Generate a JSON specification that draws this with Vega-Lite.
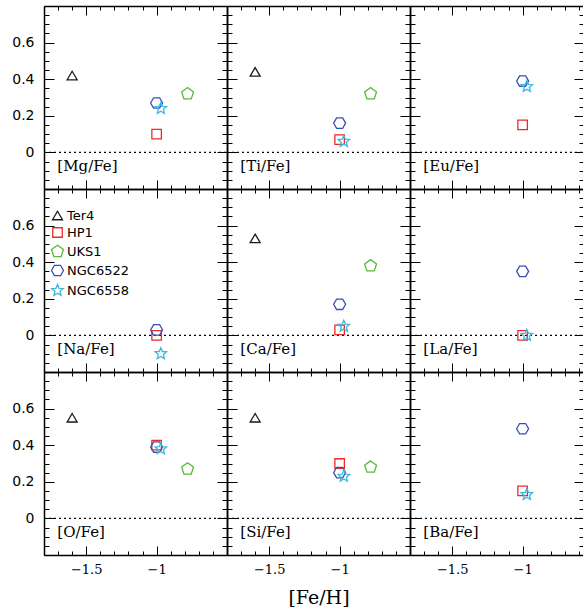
{
 "$schema": "https://vega.github.io/schema/vega-lite/v6.json",
 "padding": {"left": 11, "top": 5, "right": 0, "bottom": 5},
 "datasets": {
  "pts": [
   {"el":"Mg","cl":"Ter4","feh":-1.6,"v":0.42},{"el":"Mg","cl":"HP1","feh":-1.0,"v":0.10},{"el":"Mg","cl":"UKS1","feh":-0.78,"v":0.32},{"el":"Mg","cl":"NGC6522","feh":-1.0,"v":0.27},{"el":"Mg","cl":"NGC6558","feh":-0.97,"v":0.24},
   {"el":"Ti","cl":"Ter4","feh":-1.6,"v":0.44},{"el":"Ti","cl":"HP1","feh":-1.0,"v":0.07},{"el":"Ti","cl":"UKS1","feh":-0.78,"v":0.32},{"el":"Ti","cl":"NGC6522","feh":-1.0,"v":0.16},{"el":"Ti","cl":"NGC6558","feh":-0.97,"v":0.06},
   {"el":"Eu","cl":"HP1","feh":-1.0,"v":0.15},{"el":"Eu","cl":"NGC6522","feh":-1.0,"v":0.39},{"el":"Eu","cl":"NGC6558","feh":-0.97,"v":0.36},
   {"el":"Na","cl":"HP1","feh":-1.0,"v":0.0},{"el":"Na","cl":"NGC6522","feh":-1.0,"v":0.03},{"el":"Na","cl":"NGC6558","feh":-0.97,"v":-0.10},
   {"el":"Ca","cl":"Ter4","feh":-1.6,"v":0.53},{"el":"Ca","cl":"HP1","feh":-1.0,"v":0.03},{"el":"Ca","cl":"UKS1","feh":-0.78,"v":0.38},{"el":"Ca","cl":"NGC6522","feh":-1.0,"v":0.17},{"el":"Ca","cl":"NGC6558","feh":-0.97,"v":0.05},
   {"el":"La","cl":"HP1","feh":-1.0,"v":0.0},{"el":"La","cl":"NGC6522","feh":-1.0,"v":0.35},{"el":"La","cl":"NGC6558","feh":-0.97,"v":0.0},
   {"el":"O","cl":"Ter4","feh":-1.6,"v":0.55},{"el":"O","cl":"HP1","feh":-1.0,"v":0.40},{"el":"O","cl":"UKS1","feh":-0.78,"v":0.27},{"el":"O","cl":"NGC6522","feh":-1.0,"v":0.39},{"el":"O","cl":"NGC6558","feh":-0.97,"v":0.38},
   {"el":"Si","cl":"Ter4","feh":-1.6,"v":0.55},{"el":"Si","cl":"HP1","feh":-1.0,"v":0.30},{"el":"Si","cl":"UKS1","feh":-0.78,"v":0.28},{"el":"Si","cl":"NGC6522","feh":-1.0,"v":0.25},{"el":"Si","cl":"NGC6558","feh":-0.97,"v":0.23},
   {"el":"Ba","cl":"HP1","feh":-1.0,"v":0.15},{"el":"Ba","cl":"NGC6522","feh":-1.0,"v":0.49},{"el":"Ba","cl":"NGC6558","feh":-0.97,"v":0.13}
  ]
 },
 "columns": 3,
 "spacing": 0,
 "bounds": "flush",
 "concat": [
  {"width":183,"height":183,"layer":[
   {"data":{"values":[{}]},"mark":{"type":"rule","strokeDash":[2,3],"strokeWidth":1.2,"color":"black"},"encoding":{
     "y":{"datum":0,"type":"quantitative","scale":{"domain":[-0.2,0.8],"nice":false,"zero":false},"axis":{"orient":"right","labels":false,"title":null,"domain":true,"tickCount":20,"tickSize":-5,"tickColor":"black"}},
     "x":{"datum":-1.8,"type":"quantitative","scale":{"domain":[-1.8,-0.5],"nice":false,"zero":false},"axis":{"orient":"bottom","labels":false,"title":null,"domain":true,"tickCount":13,"tickSize":-4,"tickColor":"black"}},
     "x2":{"datum":-0.5}}},
   {"data":{"name":"pts"},"transform":[{"filter":"datum.el=='Mg'"}],"mark":{"type":"point","filled":false,"strokeWidth":1.3,"size":100,"opacity":1},"encoding":{
     "x":{"field":"feh","type":"quantitative","scale":{"domain":[-1.8,-0.5],"nice":false,"zero":false},"axis":{"orient":"bottom","labels":false,"title":null,"values":[-1.5,-1],"tickSize":-9,"tickColor":"black"}},
     "y":{"field":"v","type":"quantitative","scale":{"domain":[-0.2,0.8],"nice":false,"zero":false},"axis":{"orient":"left","title":null,"values":[0,0.2,0.4,0.6],"format":".1~f","tickSize":-10,"labelPadding":20,"tickColor":"black"}},
     "color":{"field":"cl","type":"nominal","scale":{"domain":["Ter4","HP1","UKS1","NGC6522","NGC6558"],"range":["#1a1a1a","#ee2a2a","#5cb83a","#3a4fb0","#3ab8dc"]}},
     "shape":{"field":"cl","type":"nominal","scale":{"domain":["Ter4","HP1","UKS1","NGC6522","NGC6558"],"range":["M0,-0.85L1,0.85L-1,0.85Z","M-0.95,-0.95L0.95,-0.95L0.95,0.95L-0.95,0.95Z","M0,-1.25L1.19,-0.39L0.73,1.01L-0.73,1.01L-1.19,-0.39Z","M1.2,0L0.6,1.04L-0.6,1.04L-1.2,0L-0.6,-1.04L0.6,-1.04Z","M0,-1.2L0.317,-0.437L1.141,-0.371L0.514,0.167L0.705,0.971L0,0.54L-0.705,0.971L-0.514,0.167L-1.141,-0.371L-0.317,-0.437Z"]}}}},
   {"data":{"values":[{"t":"[Mg/Fe]"}]},"mark":{"type":"text","align":"left","baseline":"middle","font":"DejaVu Serif","fontSize":15},"encoding":{
     "x":{"datum":-1.705,"type":"quantitative","scale":{"domain":[-1.8,-0.5],"nice":false,"zero":false},"axis":{"orient":"top","labels":false,"title":null,"domain":true,"tickCount":13,"tickSize":-4,"tickColor":"black"}},
     "y":{"datum":-0.075,"type":"quantitative","scale":{"domain":[-0.2,0.8],"nice":false,"zero":false},"axis":{"orient":"left","labels":false,"title":null,"domain":true,"tickCount":20,"tickSize":-5,"tickColor":"black"}},
     "text":{"field":"t"}}},
   {"data":{"values":[{}]},"mark":{"type":"point","opacity":0},"encoding":{
     "x":{"datum":-1.8,"type":"quantitative","scale":{"domain":[-1.8,-0.5],"nice":false,"zero":false},"axis":{"orient":"top","labels":false,"title":null,"values":[-1.5,-1],"tickSize":-9,"tickColor":"black"}},
     "y":{"datum":-0.2,"type":"quantitative","scale":{"domain":[-0.2,0.8],"nice":false,"zero":false},"axis":{"orient":"right","labels":false,"title":null,"values":[0,0.2,0.4,0.6],"tickSize":-10,"tickColor":"black"}}}}
  ],"resolve":{"axis":{"x":"independent","y":"independent"}}},

  {"width":183,"height":183,"layer":[
   {"data":{"values":[{}]},"mark":{"type":"rule","strokeDash":[2,3],"strokeWidth":1.2,"color":"black"},"encoding":{
     "y":{"datum":0,"type":"quantitative","scale":{"domain":[-0.2,0.8],"nice":false,"zero":false},"axis":{"orient":"right","labels":false,"title":null,"domain":true,"tickCount":20,"tickSize":-5,"tickColor":"black"}},
     "x":{"datum":-1.8,"type":"quantitative","scale":{"domain":[-1.8,-0.5],"nice":false,"zero":false},"axis":{"orient":"bottom","labels":false,"title":null,"domain":true,"tickCount":13,"tickSize":-4,"tickColor":"black"}},
     "x2":{"datum":-0.5}}},
   {"data":{"name":"pts"},"transform":[{"filter":"datum.el=='Ti'"}],"mark":{"type":"point","filled":false,"strokeWidth":1.3,"size":100,"opacity":1},"encoding":{
     "x":{"field":"feh","type":"quantitative","scale":{"domain":[-1.8,-0.5],"nice":false,"zero":false},"axis":{"orient":"bottom","labels":false,"title":null,"values":[-1.5,-1],"tickSize":-9,"tickColor":"black"}},
     "y":{"field":"v","type":"quantitative","scale":{"domain":[-0.2,0.8],"nice":false,"zero":false},"axis":{"orient":"left","labels":false,"title":null,"values":[0,0.2,0.4,0.6],"tickSize":-10,"tickColor":"black"}},
     "color":{"field":"cl","type":"nominal","scale":{"domain":["Ter4","HP1","UKS1","NGC6522","NGC6558"],"range":["#1a1a1a","#ee2a2a","#5cb83a","#3a4fb0","#3ab8dc"]}},
     "shape":{"field":"cl","type":"nominal","scale":{"domain":["Ter4","HP1","UKS1","NGC6522","NGC6558"],"range":["M0,-0.85L1,0.85L-1,0.85Z","M-0.95,-0.95L0.95,-0.95L0.95,0.95L-0.95,0.95Z","M0,-1.25L1.19,-0.39L0.73,1.01L-0.73,1.01L-1.19,-0.39Z","M1.2,0L0.6,1.04L-0.6,1.04L-1.2,0L-0.6,-1.04L0.6,-1.04Z","M0,-1.2L0.317,-0.437L1.141,-0.371L0.514,0.167L0.705,0.971L0,0.54L-0.705,0.971L-0.514,0.167L-1.141,-0.371L-0.317,-0.437Z"]}}}},
   {"data":{"values":[{"t":"[Ti/Fe]"}]},"mark":{"type":"text","align":"left","baseline":"middle","font":"DejaVu Serif","fontSize":15},"encoding":{
     "x":{"datum":-1.705,"type":"quantitative","scale":{"domain":[-1.8,-0.5],"nice":false,"zero":false},"axis":{"orient":"top","labels":false,"title":null,"domain":true,"tickCount":13,"tickSize":-4,"tickColor":"black"}},
     "y":{"datum":-0.075,"type":"quantitative","scale":{"domain":[-0.2,0.8],"nice":false,"zero":false},"axis":{"orient":"left","labels":false,"title":null,"domain":true,"tickCount":20,"tickSize":-5,"tickColor":"black"}},
     "text":{"field":"t"}}},
   {"data":{"values":[{}]},"mark":{"type":"point","opacity":0},"encoding":{
     "x":{"datum":-1.8,"type":"quantitative","scale":{"domain":[-1.8,-0.5],"nice":false,"zero":false},"axis":{"orient":"top","labels":false,"title":null,"values":[-1.5,-1],"tickSize":-9,"tickColor":"black"}},
     "y":{"datum":-0.2,"type":"quantitative","scale":{"domain":[-0.2,0.8],"nice":false,"zero":false},"axis":{"orient":"right","labels":false,"title":null,"values":[0,0.2,0.4,0.6],"tickSize":-10,"tickColor":"black"}}}}
  ],"resolve":{"axis":{"x":"independent","y":"independent"}}},

  {"width":174,"height":183,"layer":[
   {"data":{"values":[{}]},"mark":{"type":"rule","strokeDash":[2,3],"strokeWidth":1.2,"color":"black"},"encoding":{
     "y":{"datum":0,"type":"quantitative","scale":{"domain":[-0.2,0.8],"nice":false,"zero":false},"axis":{"orient":"right","labels":false,"title":null,"domain":false,"tickCount":20,"tickSize":-5,"tickColor":"black"}},
     "x":{"datum":-1.8,"type":"quantitative","scale":{"domain":[-1.8,-0.564],"nice":false,"zero":false},"axis":{"orient":"bottom","labels":false,"title":null,"domain":true,"tickCount":13,"tickSize":-4,"tickColor":"black"}},
     "x2":{"datum":-0.564}}},
   {"data":{"name":"pts"},"transform":[{"filter":"datum.el=='Eu'"}],"mark":{"type":"point","filled":false,"strokeWidth":1.3,"size":100,"opacity":1},"encoding":{
     "x":{"field":"feh","type":"quantitative","scale":{"domain":[-1.8,-0.564],"nice":false,"zero":false},"axis":{"orient":"bottom","labels":false,"title":null,"values":[-1.5,-1],"tickSize":-9,"tickColor":"black"}},
     "y":{"field":"v","type":"quantitative","scale":{"domain":[-0.2,0.8],"nice":false,"zero":false},"axis":{"orient":"left","labels":false,"title":null,"values":[0,0.2,0.4,0.6],"tickSize":-10,"tickColor":"black"}},
     "color":{"field":"cl","type":"nominal","scale":{"domain":["Ter4","HP1","UKS1","NGC6522","NGC6558"],"range":["#1a1a1a","#ee2a2a","#5cb83a","#3a4fb0","#3ab8dc"]}},
     "shape":{"field":"cl","type":"nominal","scale":{"domain":["Ter4","HP1","UKS1","NGC6522","NGC6558"],"range":["M0,-0.85L1,0.85L-1,0.85Z","M-0.95,-0.95L0.95,-0.95L0.95,0.95L-0.95,0.95Z","M0,-1.25L1.19,-0.39L0.73,1.01L-0.73,1.01L-1.19,-0.39Z","M1.2,0L0.6,1.04L-0.6,1.04L-1.2,0L-0.6,-1.04L0.6,-1.04Z","M0,-1.2L0.317,-0.437L1.141,-0.371L0.514,0.167L0.705,0.971L0,0.54L-0.705,0.971L-0.514,0.167L-1.141,-0.371L-0.317,-0.437Z"]}}}},
   {"data":{"values":[{"t":"[Eu/Fe]"}]},"mark":{"type":"text","align":"left","baseline":"middle","font":"DejaVu Serif","fontSize":15},"encoding":{
     "x":{"datum":-1.705,"type":"quantitative","scale":{"domain":[-1.8,-0.564],"nice":false,"zero":false},"axis":{"orient":"top","labels":false,"title":null,"domain":true,"tickCount":13,"tickSize":-4,"tickColor":"black"}},
     "y":{"datum":-0.075,"type":"quantitative","scale":{"domain":[-0.2,0.8],"nice":false,"zero":false},"axis":{"orient":"left","labels":false,"title":null,"domain":true,"tickCount":20,"tickSize":-5,"tickColor":"black"}},
     "text":{"field":"t"}}},
   {"data":{"values":[{}]},"mark":{"type":"point","opacity":0},"encoding":{
     "x":{"datum":-1.8,"type":"quantitative","scale":{"domain":[-1.8,-0.564],"nice":false,"zero":false},"axis":{"orient":"top","labels":false,"title":null,"values":[-1.5,-1],"tickSize":-9,"tickColor":"black"}},
     "y":{"datum":-0.2,"type":"quantitative","scale":{"domain":[-0.2,0.8],"nice":false,"zero":false},"axis":{"orient":"right","labels":false,"title":null,"values":[0,0.2,0.4,0.6],"tickSize":-10,"tickColor":"black"}}}}
  ],"resolve":{"axis":{"x":"independent","y":"independent"}}},

  {"width":183,"height":183,"layer":[
   {"data":{"values":[{}]},"mark":{"type":"rule","strokeDash":[2,3],"strokeWidth":1.2,"color":"black"},"encoding":{
     "y":{"datum":0,"type":"quantitative","scale":{"domain":[-0.2,0.8],"nice":false,"zero":false},"axis":{"orient":"right","labels":false,"title":null,"domain":true,"tickCount":20,"tickSize":-5,"tickColor":"black"}},
     "x":{"datum":-1.8,"type":"quantitative","scale":{"domain":[-1.8,-0.5],"nice":false,"zero":false},"axis":{"orient":"bottom","labels":false,"title":null,"domain":true,"tickCount":13,"tickSize":-4,"tickColor":"black"}},
     "x2":{"datum":-0.5}}},
   {"data":{"name":"pts"},"transform":[{"filter":"datum.el=='Na'"}],"mark":{"type":"point","filled":false,"strokeWidth":1.3,"size":100,"opacity":1},"encoding":{
     "x":{"field":"feh","type":"quantitative","scale":{"domain":[-1.8,-0.5],"nice":false,"zero":false},"axis":{"orient":"bottom","labels":false,"title":null,"values":[-1.5,-1],"tickSize":-9,"tickColor":"black"}},
     "y":{"field":"v","type":"quantitative","scale":{"domain":[-0.2,0.8],"nice":false,"zero":false},"axis":{"orient":"left","title":null,"values":[0,0.2,0.4,0.6],"format":".1~f","tickSize":-10,"labelPadding":20,"tickColor":"black"}},
     "color":{"field":"cl","type":"nominal","scale":{"domain":["Ter4","HP1","UKS1","NGC6522","NGC6558"],"range":["#1a1a1a","#ee2a2a","#5cb83a","#3a4fb0","#3ab8dc"]}},
     "shape":{"field":"cl","type":"nominal","scale":{"domain":["Ter4","HP1","UKS1","NGC6522","NGC6558"],"range":["M0,-0.85L1,0.85L-1,0.85Z","M-0.95,-0.95L0.95,-0.95L0.95,0.95L-0.95,0.95Z","M0,-1.25L1.19,-0.39L0.73,1.01L-0.73,1.01L-1.19,-0.39Z","M1.2,0L0.6,1.04L-0.6,1.04L-1.2,0L-0.6,-1.04L0.6,-1.04Z","M0,-1.2L0.317,-0.437L1.141,-0.371L0.514,0.167L0.705,0.971L0,0.54L-0.705,0.971L-0.514,0.167L-1.141,-0.371L-0.317,-0.437Z"]}}}},
   {"data":{"values":[{"t":"[Na/Fe]"}]},"mark":{"type":"text","align":"left","baseline":"middle","font":"DejaVu Serif","fontSize":15},"encoding":{
     "x":{"datum":-1.705,"type":"quantitative","scale":{"domain":[-1.8,-0.5],"nice":false,"zero":false},"axis":{"orient":"top","labels":false,"title":null,"domain":true,"tickCount":13,"tickSize":-4,"tickColor":"black"}},
     "y":{"datum":-0.075,"type":"quantitative","scale":{"domain":[-0.2,0.8],"nice":false,"zero":false},"axis":{"orient":"left","labels":false,"title":null,"domain":true,"tickCount":20,"tickSize":-5,"tickColor":"black"}},
     "text":{"field":"t"}}},
   {"data":{"values":[{}]},"mark":{"type":"point","opacity":0},"encoding":{
     "x":{"datum":-1.8,"type":"quantitative","scale":{"domain":[-1.8,-0.5],"nice":false,"zero":false},"axis":{"orient":"top","labels":false,"title":null,"values":[-1.5,-1],"tickSize":-9,"tickColor":"black"}},
     "y":{"datum":-0.2,"type":"quantitative","scale":{"domain":[-0.2,0.8],"nice":false,"zero":false},"axis":{"orient":"right","labels":false,"title":null,"values":[0,0.2,0.4,0.6],"tickSize":-10,"tickColor":"black"}}}}
  ],"resolve":{"axis":{"x":"independent","y":"independent"}}},

  {"width":183,"height":183,"layer":[
   {"data":{"values":[{}]},"mark":{"type":"rule","strokeDash":[2,3],"strokeWidth":1.2,"color":"black"},"encoding":{
     "y":{"datum":0,"type":"quantitative","scale":{"domain":[-0.2,0.8],"nice":false,"zero":false},"axis":{"orient":"right","labels":false,"title":null,"domain":true,"tickCount":20,"tickSize":-5,"tickColor":"black"}},
     "x":{"datum":-1.8,"type":"quantitative","scale":{"domain":[-1.8,-0.5],"nice":false,"zero":false},"axis":{"orient":"bottom","labels":false,"title":null,"domain":true,"tickCount":13,"tickSize":-4,"tickColor":"black"}},
     "x2":{"datum":-0.5}}},
   {"data":{"name":"pts"},"transform":[{"filter":"datum.el=='Ca'"}],"mark":{"type":"point","filled":false,"strokeWidth":1.3,"size":100,"opacity":1},"encoding":{
     "x":{"field":"feh","type":"quantitative","scale":{"domain":[-1.8,-0.5],"nice":false,"zero":false},"axis":{"orient":"bottom","labels":false,"title":null,"values":[-1.5,-1],"tickSize":-9,"tickColor":"black"}},
     "y":{"field":"v","type":"quantitative","scale":{"domain":[-0.2,0.8],"nice":false,"zero":false},"axis":{"orient":"left","labels":false,"title":null,"values":[0,0.2,0.4,0.6],"tickSize":-10,"tickColor":"black"}},
     "color":{"field":"cl","type":"nominal","scale":{"domain":["Ter4","HP1","UKS1","NGC6522","NGC6558"],"range":["#1a1a1a","#ee2a2a","#5cb83a","#3a4fb0","#3ab8dc"]}},
     "shape":{"field":"cl","type":"nominal","scale":{"domain":["Ter4","HP1","UKS1","NGC6522","NGC6558"],"range":["M0,-0.85L1,0.85L-1,0.85Z","M-0.95,-0.95L0.95,-0.95L0.95,0.95L-0.95,0.95Z","M0,-1.25L1.19,-0.39L0.73,1.01L-0.73,1.01L-1.19,-0.39Z","M1.2,0L0.6,1.04L-0.6,1.04L-1.2,0L-0.6,-1.04L0.6,-1.04Z","M0,-1.2L0.317,-0.437L1.141,-0.371L0.514,0.167L0.705,0.971L0,0.54L-0.705,0.971L-0.514,0.167L-1.141,-0.371L-0.317,-0.437Z"]}}}},
   {"data":{"values":[{"t":"[Ca/Fe]"}]},"mark":{"type":"text","align":"left","baseline":"middle","font":"DejaVu Serif","fontSize":15},"encoding":{
     "x":{"datum":-1.705,"type":"quantitative","scale":{"domain":[-1.8,-0.5],"nice":false,"zero":false},"axis":{"orient":"top","labels":false,"title":null,"domain":true,"tickCount":13,"tickSize":-4,"tickColor":"black"}},
     "y":{"datum":-0.075,"type":"quantitative","scale":{"domain":[-0.2,0.8],"nice":false,"zero":false},"axis":{"orient":"left","labels":false,"title":null,"domain":true,"tickCount":20,"tickSize":-5,"tickColor":"black"}},
     "text":{"field":"t"}}},
   {"data":{"values":[{}]},"mark":{"type":"point","opacity":0},"encoding":{
     "x":{"datum":-1.8,"type":"quantitative","scale":{"domain":[-1.8,-0.5],"nice":false,"zero":false},"axis":{"orient":"top","labels":false,"title":null,"values":[-1.5,-1],"tickSize":-9,"tickColor":"black"}},
     "y":{"datum":-0.2,"type":"quantitative","scale":{"domain":[-0.2,0.8],"nice":false,"zero":false},"axis":{"orient":"right","labels":false,"title":null,"values":[0,0.2,0.4,0.6],"tickSize":-10,"tickColor":"black"}}}}
  ],"resolve":{"axis":{"x":"independent","y":"independent"}}},

  {"width":174,"height":183,"layer":[
   {"data":{"values":[{}]},"mark":{"type":"rule","strokeDash":[2,3],"strokeWidth":1.2,"color":"black"},"encoding":{
     "y":{"datum":0,"type":"quantitative","scale":{"domain":[-0.2,0.8],"nice":false,"zero":false},"axis":{"orient":"right","labels":false,"title":null,"domain":false,"tickCount":20,"tickSize":-5,"tickColor":"black"}},
     "x":{"datum":-1.8,"type":"quantitative","scale":{"domain":[-1.8,-0.564],"nice":false,"zero":false},"axis":{"orient":"bottom","labels":false,"title":null,"domain":true,"tickCount":13,"tickSize":-4,"tickColor":"black"}},
     "x2":{"datum":-0.564}}},
   {"data":{"name":"pts"},"transform":[{"filter":"datum.el=='La'"}],"mark":{"type":"point","filled":false,"strokeWidth":1.3,"size":100,"opacity":1},"encoding":{
     "x":{"field":"feh","type":"quantitative","scale":{"domain":[-1.8,-0.564],"nice":false,"zero":false},"axis":{"orient":"bottom","labels":false,"title":null,"values":[-1.5,-1],"tickSize":-9,"tickColor":"black"}},
     "y":{"field":"v","type":"quantitative","scale":{"domain":[-0.2,0.8],"nice":false,"zero":false},"axis":{"orient":"left","labels":false,"title":null,"values":[0,0.2,0.4,0.6],"tickSize":-10,"tickColor":"black"}},
     "color":{"field":"cl","type":"nominal","scale":{"domain":["Ter4","HP1","UKS1","NGC6522","NGC6558"],"range":["#1a1a1a","#ee2a2a","#5cb83a","#3a4fb0","#3ab8dc"]}},
     "shape":{"field":"cl","type":"nominal","scale":{"domain":["Ter4","HP1","UKS1","NGC6522","NGC6558"],"range":["M0,-0.85L1,0.85L-1,0.85Z","M-0.95,-0.95L0.95,-0.95L0.95,0.95L-0.95,0.95Z","M0,-1.25L1.19,-0.39L0.73,1.01L-0.73,1.01L-1.19,-0.39Z","M1.2,0L0.6,1.04L-0.6,1.04L-1.2,0L-0.6,-1.04L0.6,-1.04Z","M0,-1.2L0.317,-0.437L1.141,-0.371L0.514,0.167L0.705,0.971L0,0.54L-0.705,0.971L-0.514,0.167L-1.141,-0.371L-0.317,-0.437Z"]}}}},
   {"data":{"values":[{"t":"[La/Fe]"}]},"mark":{"type":"text","align":"left","baseline":"middle","font":"DejaVu Serif","fontSize":15},"encoding":{
     "x":{"datum":-1.705,"type":"quantitative","scale":{"domain":[-1.8,-0.564],"nice":false,"zero":false},"axis":{"orient":"top","labels":false,"title":null,"domain":true,"tickCount":13,"tickSize":-4,"tickColor":"black"}},
     "y":{"datum":-0.075,"type":"quantitative","scale":{"domain":[-0.2,0.8],"nice":false,"zero":false},"axis":{"orient":"left","labels":false,"title":null,"domain":true,"tickCount":20,"tickSize":-5,"tickColor":"black"}},
     "text":{"field":"t"}}},
   {"data":{"values":[{}]},"mark":{"type":"point","opacity":0},"encoding":{
     "x":{"datum":-1.8,"type":"quantitative","scale":{"domain":[-1.8,-0.564],"nice":false,"zero":false},"axis":{"orient":"top","labels":false,"title":null,"values":[-1.5,-1],"tickSize":-9,"tickColor":"black"}},
     "y":{"datum":-0.2,"type":"quantitative","scale":{"domain":[-0.2,0.8],"nice":false,"zero":false},"axis":{"orient":"right","labels":false,"title":null,"values":[0,0.2,0.4,0.6],"tickSize":-10,"tickColor":"black"}}}}
  ],"resolve":{"axis":{"x":"independent","y":"independent"}}},

  {"width":183,"height":183,"layer":[
   {"data":{"values":[{}]},"mark":{"type":"rule","strokeDash":[2,3],"strokeWidth":1.2,"color":"black"},"encoding":{
     "y":{"datum":0,"type":"quantitative","scale":{"domain":[-0.2,0.8],"nice":false,"zero":false},"axis":{"orient":"right","labels":false,"title":null,"domain":true,"tickCount":20,"tickSize":-5,"tickColor":"black"}},
     "x":{"datum":-1.8,"type":"quantitative","scale":{"domain":[-1.8,-0.5],"nice":false,"zero":false},"axis":{"orient":"bottom","labels":false,"title":null,"domain":true,"tickCount":13,"tickSize":-4,"tickColor":"black"}},
     "x2":{"datum":-0.5}}},
   {"data":{"name":"pts"},"transform":[{"filter":"datum.el=='O'"}],"mark":{"type":"point","filled":false,"strokeWidth":1.3,"size":100,"opacity":1},"encoding":{
     "x":{"field":"feh","type":"quantitative","scale":{"domain":[-1.8,-0.5],"nice":false,"zero":false},"axis":{"orient":"bottom","title":null,"values":[-1.5,-1],"format":".1~f","tickSize":-9,"labelPadding":17,"tickColor":"black"}},
     "y":{"field":"v","type":"quantitative","scale":{"domain":[-0.2,0.8],"nice":false,"zero":false},"axis":{"orient":"left","title":null,"values":[0,0.2,0.4,0.6],"format":".1~f","tickSize":-10,"labelPadding":20,"tickColor":"black"}},
     "color":{"field":"cl","type":"nominal","scale":{"domain":["Ter4","HP1","UKS1","NGC6522","NGC6558"],"range":["#1a1a1a","#ee2a2a","#5cb83a","#3a4fb0","#3ab8dc"]}},
     "shape":{"field":"cl","type":"nominal","scale":{"domain":["Ter4","HP1","UKS1","NGC6522","NGC6558"],"range":["M0,-0.85L1,0.85L-1,0.85Z","M-0.95,-0.95L0.95,-0.95L0.95,0.95L-0.95,0.95Z","M0,-1.25L1.19,-0.39L0.73,1.01L-0.73,1.01L-1.19,-0.39Z","M1.2,0L0.6,1.04L-0.6,1.04L-1.2,0L-0.6,-1.04L0.6,-1.04Z","M0,-1.2L0.317,-0.437L1.141,-0.371L0.514,0.167L0.705,0.971L0,0.54L-0.705,0.971L-0.514,0.167L-1.141,-0.371L-0.317,-0.437Z"]}}}},
   {"data":{"values":[{"t":"[O/Fe]"}]},"mark":{"type":"text","align":"left","baseline":"middle","font":"DejaVu Serif","fontSize":15},"encoding":{
     "x":{"datum":-1.705,"type":"quantitative","scale":{"domain":[-1.8,-0.5],"nice":false,"zero":false},"axis":{"orient":"top","labels":false,"title":null,"domain":true,"tickCount":13,"tickSize":-4,"tickColor":"black"}},
     "y":{"datum":-0.075,"type":"quantitative","scale":{"domain":[-0.2,0.8],"nice":false,"zero":false},"axis":{"orient":"left","labels":false,"title":null,"domain":true,"tickCount":20,"tickSize":-5,"tickColor":"black"}},
     "text":{"field":"t"}}},
   {"data":{"values":[{}]},"mark":{"type":"point","opacity":0},"encoding":{
     "x":{"datum":-1.8,"type":"quantitative","scale":{"domain":[-1.8,-0.5],"nice":false,"zero":false},"axis":{"orient":"top","labels":false,"title":null,"values":[-1.5,-1],"tickSize":-9,"tickColor":"black"}},
     "y":{"datum":-0.2,"type":"quantitative","scale":{"domain":[-0.2,0.8],"nice":false,"zero":false},"axis":{"orient":"right","labels":false,"title":null,"values":[0,0.2,0.4,0.6],"tickSize":-10,"tickColor":"black"}}}}
  ],"resolve":{"axis":{"x":"independent","y":"independent"}}},

  {"width":183,"height":183,"layer":[
   {"data":{"values":[{}]},"mark":{"type":"rule","strokeDash":[2,3],"strokeWidth":1.2,"color":"black"},"encoding":{
     "y":{"datum":0,"type":"quantitative","scale":{"domain":[-0.2,0.8],"nice":false,"zero":false},"axis":{"orient":"right","labels":false,"title":null,"domain":true,"tickCount":20,"tickSize":-5,"tickColor":"black"}},
     "x":{"datum":-1.8,"type":"quantitative","scale":{"domain":[-1.8,-0.5],"nice":false,"zero":false},"axis":{"orient":"bottom","labels":false,"title":null,"domain":true,"tickCount":13,"tickSize":-4,"tickColor":"black"}},
     "x2":{"datum":-0.5}}},
   {"data":{"name":"pts"},"transform":[{"filter":"datum.el=='Si'"}],"mark":{"type":"point","filled":false,"strokeWidth":1.3,"size":100,"opacity":1},"encoding":{
     "x":{"field":"feh","type":"quantitative","scale":{"domain":[-1.8,-0.5],"nice":false,"zero":false},"axis":{"orient":"bottom","title":"[Fe/H]","values":[-1.5,-1],"format":".1~f","tickSize":-9,"labelPadding":17,"tickColor":"black"}},
     "y":{"field":"v","type":"quantitative","scale":{"domain":[-0.2,0.8],"nice":false,"zero":false},"axis":{"orient":"left","labels":false,"title":null,"values":[0,0.2,0.4,0.6],"tickSize":-10,"tickColor":"black"}},
     "color":{"field":"cl","type":"nominal","scale":{"domain":["Ter4","HP1","UKS1","NGC6522","NGC6558"],"range":["#1a1a1a","#ee2a2a","#5cb83a","#3a4fb0","#3ab8dc"]}},
     "shape":{"field":"cl","type":"nominal","scale":{"domain":["Ter4","HP1","UKS1","NGC6522","NGC6558"],"range":["M0,-0.85L1,0.85L-1,0.85Z","M-0.95,-0.95L0.95,-0.95L0.95,0.95L-0.95,0.95Z","M0,-1.25L1.19,-0.39L0.73,1.01L-0.73,1.01L-1.19,-0.39Z","M1.2,0L0.6,1.04L-0.6,1.04L-1.2,0L-0.6,-1.04L0.6,-1.04Z","M0,-1.2L0.317,-0.437L1.141,-0.371L0.514,0.167L0.705,0.971L0,0.54L-0.705,0.971L-0.514,0.167L-1.141,-0.371L-0.317,-0.437Z"]}}}},
   {"data":{"values":[{"t":"[Si/Fe]"}]},"mark":{"type":"text","align":"left","baseline":"middle","font":"DejaVu Serif","fontSize":15},"encoding":{
     "x":{"datum":-1.705,"type":"quantitative","scale":{"domain":[-1.8,-0.5],"nice":false,"zero":false},"axis":{"orient":"top","labels":false,"title":null,"domain":true,"tickCount":13,"tickSize":-4,"tickColor":"black"}},
     "y":{"datum":-0.075,"type":"quantitative","scale":{"domain":[-0.2,0.8],"nice":false,"zero":false},"axis":{"orient":"left","labels":false,"title":null,"domain":true,"tickCount":20,"tickSize":-5,"tickColor":"black"}},
     "text":{"field":"t"}}},
   {"data":{"values":[{}]},"mark":{"type":"point","opacity":0},"encoding":{
     "x":{"datum":-1.8,"type":"quantitative","scale":{"domain":[-1.8,-0.5],"nice":false,"zero":false},"axis":{"orient":"top","labels":false,"title":null,"values":[-1.5,-1],"tickSize":-9,"tickColor":"black"}},
     "y":{"datum":-0.2,"type":"quantitative","scale":{"domain":[-0.2,0.8],"nice":false,"zero":false},"axis":{"orient":"right","labels":false,"title":null,"values":[0,0.2,0.4,0.6],"tickSize":-10,"tickColor":"black"}}}}
  ],"resolve":{"axis":{"x":"independent","y":"independent"}}},

  {"width":174,"height":183,"layer":[
   {"data":{"values":[{}]},"mark":{"type":"rule","strokeDash":[2,3],"strokeWidth":1.2,"color":"black"},"encoding":{
     "y":{"datum":0,"type":"quantitative","scale":{"domain":[-0.2,0.8],"nice":false,"zero":false},"axis":{"orient":"right","labels":false,"title":null,"domain":false,"tickCount":20,"tickSize":-5,"tickColor":"black"}},
     "x":{"datum":-1.8,"type":"quantitative","scale":{"domain":[-1.8,-0.564],"nice":false,"zero":false},"axis":{"orient":"bottom","labels":false,"title":null,"domain":true,"tickCount":13,"tickSize":-4,"tickColor":"black"}},
     "x2":{"datum":-0.564}}},
   {"data":{"name":"pts"},"transform":[{"filter":"datum.el=='Ba'"}],"mark":{"type":"point","filled":false,"strokeWidth":1.3,"size":100,"opacity":1},"encoding":{
     "x":{"field":"feh","type":"quantitative","scale":{"domain":[-1.8,-0.564],"nice":false,"zero":false},"axis":{"orient":"bottom","title":null,"values":[-1.5,-1],"format":".1~f","tickSize":-9,"labelPadding":17,"tickColor":"black"}},
     "y":{"field":"v","type":"quantitative","scale":{"domain":[-0.2,0.8],"nice":false,"zero":false},"axis":{"orient":"left","labels":false,"title":null,"values":[0,0.2,0.4,0.6],"tickSize":-10,"tickColor":"black"}},
     "color":{"field":"cl","type":"nominal","scale":{"domain":["Ter4","HP1","UKS1","NGC6522","NGC6558"],"range":["#1a1a1a","#ee2a2a","#5cb83a","#3a4fb0","#3ab8dc"]}},
     "shape":{"field":"cl","type":"nominal","scale":{"domain":["Ter4","HP1","UKS1","NGC6522","NGC6558"],"range":["M0,-0.85L1,0.85L-1,0.85Z","M-0.95,-0.95L0.95,-0.95L0.95,0.95L-0.95,0.95Z","M0,-1.25L1.19,-0.39L0.73,1.01L-0.73,1.01L-1.19,-0.39Z","M1.2,0L0.6,1.04L-0.6,1.04L-1.2,0L-0.6,-1.04L0.6,-1.04Z","M0,-1.2L0.317,-0.437L1.141,-0.371L0.514,0.167L0.705,0.971L0,0.54L-0.705,0.971L-0.514,0.167L-1.141,-0.371L-0.317,-0.437Z"]}}}},
   {"data":{"values":[{"t":"[Ba/Fe]"}]},"mark":{"type":"text","align":"left","baseline":"middle","font":"DejaVu Serif","fontSize":15},"encoding":{
     "x":{"datum":-1.705,"type":"quantitative","scale":{"domain":[-1.8,-0.564],"nice":false,"zero":false},"axis":{"orient":"top","labels":false,"title":null,"domain":true,"tickCount":13,"tickSize":-4,"tickColor":"black"}},
     "y":{"datum":-0.075,"type":"quantitative","scale":{"domain":[-0.2,0.8],"nice":false,"zero":false},"axis":{"orient":"left","labels":false,"title":null,"domain":true,"tickCount":20,"tickSize":-5,"tickColor":"black"}},
     "text":{"field":"t"}}},
   {"data":{"values":[{}]},"mark":{"type":"point","opacity":0},"encoding":{
     "x":{"datum":-1.8,"type":"quantitative","scale":{"domain":[-1.8,-0.564],"nice":false,"zero":false},"axis":{"orient":"top","labels":false,"title":null,"values":[-1.5,-1],"tickSize":-9,"tickColor":"black"}},
     "y":{"datum":-0.2,"type":"quantitative","scale":{"domain":[-0.2,0.8],"nice":false,"zero":false},"axis":{"orient":"right","labels":false,"title":null,"values":[0,0.2,0.4,0.6],"tickSize":-10,"tickColor":"black"}}}}
  ],"resolve":{"axis":{"x":"independent","y":"independent"}}}
 ],
 "config": {
  "view": {"stroke": null},
  "axis": {"domain": false, "domainColor": "black", "domainWidth": 1.5, "grid": false, "labelColor": "black", "labelOverlap": false, "labelFlush": false, "titleFont": "DejaVu Serif", "titleFontSize": 19, "titleFontWeight": "normal", "titleColor": "black", "titlePadding": 12},
  "axisX": {"labelFont": "DejaVu Serif", "labelFontSize": 13},
  "axisY": {"labelFont": "DejaVu Sans", "labelFontSize": 14},
  "legend": {"orient": "none", "legendX": 7, "legendY": 203, "title": null, "labelFont": "DejaVu Sans", "labelFontSize": 13, "labelColor": "black", "symbolStrokeWidth": 1.3, "symbolSize": 100, "rowPadding": 2, "labelOffset": 3, "padding": 0}
 }
}
